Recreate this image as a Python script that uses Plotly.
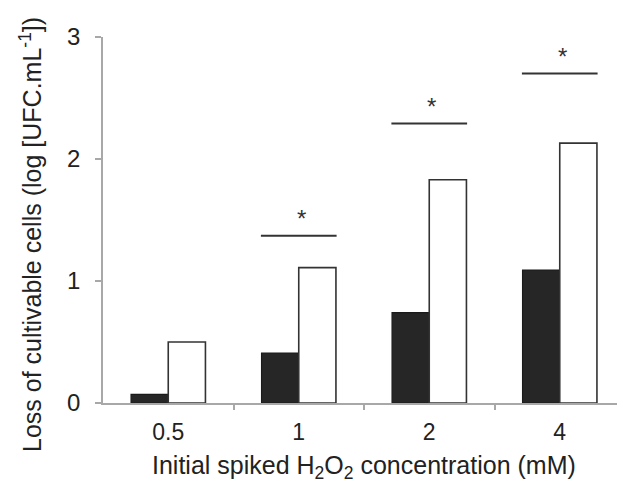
import plotly.graph_objects as go

categories = ["0.5", "1", "2", "4"]
dark_values = [0.07, 0.41, 0.74, 1.09]
white_values = [0.50, 1.11, 1.83, 2.13]
sig_levels = [None, 1.37, 2.29, 2.70]
y_ticks = [0, 1, 2, 3]

xpos = list(range(len(categories)))
font = "Liberation Sans, Arial, sans-serif"

fig = go.Figure()
fig.add_trace(go.Bar(x=xpos, y=dark_values, marker=dict(color="#262626", line=dict(color="#1a1a1a", width=1.2)),
                     showlegend=False))
fig.add_trace(go.Bar(x=xpos, y=white_values, marker=dict(color="white", line=dict(color="#333333", width=1.6)),
                     showlegend=False))

for i, lvl in enumerate(sig_levels):
    if lvl is None:
        continue
    fig.add_shape(type="line", xref="x", yref="y", x0=i - 0.29, x1=i + 0.29, y0=lvl, y1=lvl,
                  line=dict(color="#333333", width=2))
    fig.add_annotation(x=i + 0.02, y=lvl + 0.14, xref="x", yref="y", text="*", showarrow=False,
                       font=dict(family=font, size=24, color="#333333"), yanchor="middle")

# axis titles as annotations for precise placement
fig.add_annotation(xref="paper", yref="paper", x=0.5, y=0, yshift=-64, xanchor="center", yanchor="middle",
                   text="Initial spiked H<sub>2</sub>O<sub>2</sub> concentration (mM)", showarrow=False,
                   font=dict(family=font, size=25, color="#222222"))
fig.add_annotation(xref="paper", yref="paper", x=0, xshift=-72, y=0.459, xanchor="center", yanchor="middle",
                   textangle=-90, text="Loss of cultivable cells (log [UFC.mL<sup>-1</sup>])", showarrow=False,
                   font=dict(family=font, size=25, color="#222222"))

fig.update_layout(
    width=617, height=485,
    margin=dict(l=95, r=0, t=29, b=90),
    plot_bgcolor="white", paper_bgcolor="white",
    barmode="group", bargap=0.43, bargroupgap=0,
    font=dict(family=font, color="#222222"),
    xaxis=dict(
        range=[-0.5, 3.5], tickmode="array", tickvals=xpos, ticktext=categories,
        showline=True, linecolor="#a8a8a8", linewidth=1.5, ticks="", showgrid=False, zeroline=False,
        tickfont=dict(size=23, color="#222222"), ticklabelstandoff=8,
        minor=dict(tickmode="array", tickvals=[0.5, 1.5, 2.5], ticks="outside", ticklen=5,
                   tickcolor="#a8a8a8", tickwidth=1.5),
    ),
    yaxis=dict(
        range=[0, 3], tickvals=y_ticks, ticks="outside", ticklen=6, tickcolor="#a8a8a8", tickwidth=1.5,
        showline=True, linecolor="#a8a8a8", linewidth=1.5, showgrid=False, zeroline=False,
        tickfont=dict(size=24, color="#222222"), ticklabelstandoff=10,
    ),
)

fig.write_html("out.html")
